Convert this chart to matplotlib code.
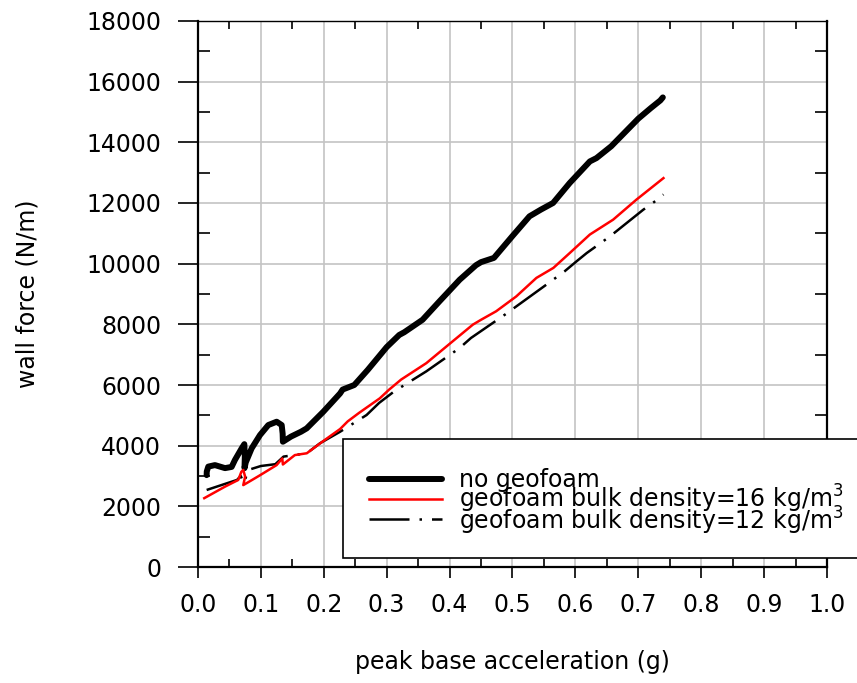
import numpy as np
import matplotlib
matplotlib.use("Agg")
from matplotlib import pyplot as plt
from matplotlib.patches import Rectangle
from matplotlib.lines import Line2D

plt.rcParams['font.family'] = ['DejaVu Sans']
plt.rcParams['mathtext.fontset'] = 'dejavusans'

# Data
# no geofoam
x_none = [0.0138, 0.0140, 0.0164, 0.027, 0.043, 0.0535, 0.0588, 0.0694, 0.0737, 0.0745, 0.0740,
          0.0760, 0.0853, 0.0986, 0.1118, 0.1251, 0.1331, 0.1346, 0.1350, 0.1479, 0.1638,
          0.1728, 0.1993, 0.2258, 0.2300, 0.2485, 0.270, 0.2900, 0.3000, 0.3200, 0.328,
          0.3570, 0.3840, 0.4160, 0.4420, 0.4500, 0.4705, 0.4995, 0.5270, 0.5450, 0.5645,
          0.5910, 0.6230, 0.6335, 0.6570, 0.7000, 0.7200, 0.7350, 0.7390]
y_none = [3030, 3150, 3310, 3360, 3260, 3300, 3530, 3910, 4050, 3650, 3260,
          3450, 3910, 4350, 4680, 4790, 4680, 4400, 4130, 4300, 4460,
          4570, 5120, 5720, 5850, 6000, 6500, 7000, 7250, 7650, 7740,
          8150, 8760, 9470, 9950, 10050, 10190, 10900, 11560, 11780, 12000,
          12660, 13370, 13480, 13870, 14780, 15130, 15380, 15480]

# geofoam bulk density = 16 kg/m3
x_16 = [0.010, 0.043, 0.064, 0.069, 0.072, 0.075, 0.072, 0.086, 0.099, 0.125, 0.134, 0.135,
        0.154, 0.173, 0.199, 0.226, 0.238, 0.256, 0.289, 0.304, 0.323, 0.363, 0.395,
        0.437, 0.450, 0.474, 0.506, 0.538, 0.565, 0.591, 0.623, 0.660, 0.697, 0.740]
y_16 = [2270, 2650, 2870, 3140, 3200, 2980, 2700, 2870, 3030, 3360, 3580, 3380,
        3690, 3750, 4150, 4550, 4800, 5080, 5560, 5850, 6180, 6720, 7270,
        7990, 8150, 8430, 8920, 9530, 9860, 10350, 10960, 11450, 12110, 12820]

# geofoam bulk density = 12 kg/m3
x_12 = [0.0138, 0.040, 0.062, 0.068, 0.073, 0.080, 0.100, 0.123, 0.136, 0.173, 0.194,
        0.226, 0.268, 0.288, 0.312, 0.363, 0.416, 0.434, 0.488, 0.554, 0.583,
        0.602, 0.618, 0.655, 0.708, 0.727, 0.740]
y_12 = [2540, 2720, 2870, 3000, 2760, 3200, 3330, 3390, 3640, 3750, 4080,
        4460, 5010, 5410, 5790, 6450, 7220, 7550, 8320, 9310, 9750,
        10080, 10350, 10900, 11780, 12060, 12280]

labels = ["no geofoam",
          "geofoam bulk density=16 kg/m$^{3}$",
          "geofoam bulk density=12 kg/m$^{3}$"]

x_ticks = np.arange(0, 1.01, 0.1)
y_ticks = np.arange(0, 18001, 2000)

fig = plt.figure(figsize=(8.57, 6.83), dpi=100)
ax = fig.add_axes([0.231, 0.1698, 0.734, 0.7995])

ax.plot(x_none, y_none, color="black", lw=4.3, solid_capstyle="round", solid_joinstyle="round", zorder=3)
ax.plot(x_16, y_16, color="red", lw=1.8, zorder=4)
ax.plot(x_12, y_12, color="black", lw=1.8, dashes=(16, 4, 1, 4), zorder=3)

ax.set_xlim(0, 1.0)
ax.set_ylim(0, 18000)
ax.set_xticks(x_ticks)
ax.set_xticklabels(["%.1f" % v for v in x_ticks])
ax.set_yticks(y_ticks)
ax.set_xticks(np.arange(0.05, 1.0, 0.1), minor=True)
ax.set_yticks(np.arange(1000, 18000, 2000), minor=True)
ax.grid(True, which="major", color="#c4c4c4", lw=1.2)
ax.set_axisbelow(True)

ax.tick_params(which="major", direction="out", labelsize=17, width=1.2,
               top=False, right=False)
ax.tick_params(axis="x", which="major", length=8, pad=11)
ax.tick_params(axis="y", which="major", length=14.5, pad=12)
ax.tick_params(which="minor", direction="in", width=1.2, top=True, right=True)
ax.tick_params(axis="x", which="minor", length=6)
ax.tick_params(axis="y", which="minor", length=8.5)

for side in ["left", "right", "bottom"]:
    ax.spines[side].set_linewidth(1.6)
ax.spines["top"].set_linewidth(1.0)

ax.set_xlabel("peak base acceleration (g)", fontsize=17)
ax.set_ylabel("wall force (N/m)", fontsize=17)
ax.xaxis.set_label_coords(0.5, -0.152)
ax.yaxis.set_label_coords(-0.252, 0.5)

# legend box, drawn by hand so it can run off the right edge like the original
ax.add_patch(Rectangle((0.2305, 0.0165), 0.83, 0.218, transform=ax.transAxes,
                       facecolor="white", edgecolor="black", lw=1.2, clip_on=False, zorder=5))
handle_y = [0.1612, 0.1245, 0.0879]
text_y = [0.1465, 0.108, 0.0690]
styles = [dict(color="black", lw=4.3, solid_capstyle="round"),
          dict(color="red", lw=1.8),
          dict(color="black", lw=1.8, dashes=(16, 4, 1, 4))]
for hy, ty, lab, st in zip(handle_y, text_y, labels, styles):
    ax.add_line(Line2D([0.2719, 0.3879], [hy, hy], transform=ax.transAxes,
                       clip_on=False, zorder=6, **st))
    ax.text(0.415, ty, lab, transform=ax.transAxes, fontsize=17, va="baseline",
            ha="left", zorder=6, clip_on=False)

fig.savefig("out.png", dpi=100)
